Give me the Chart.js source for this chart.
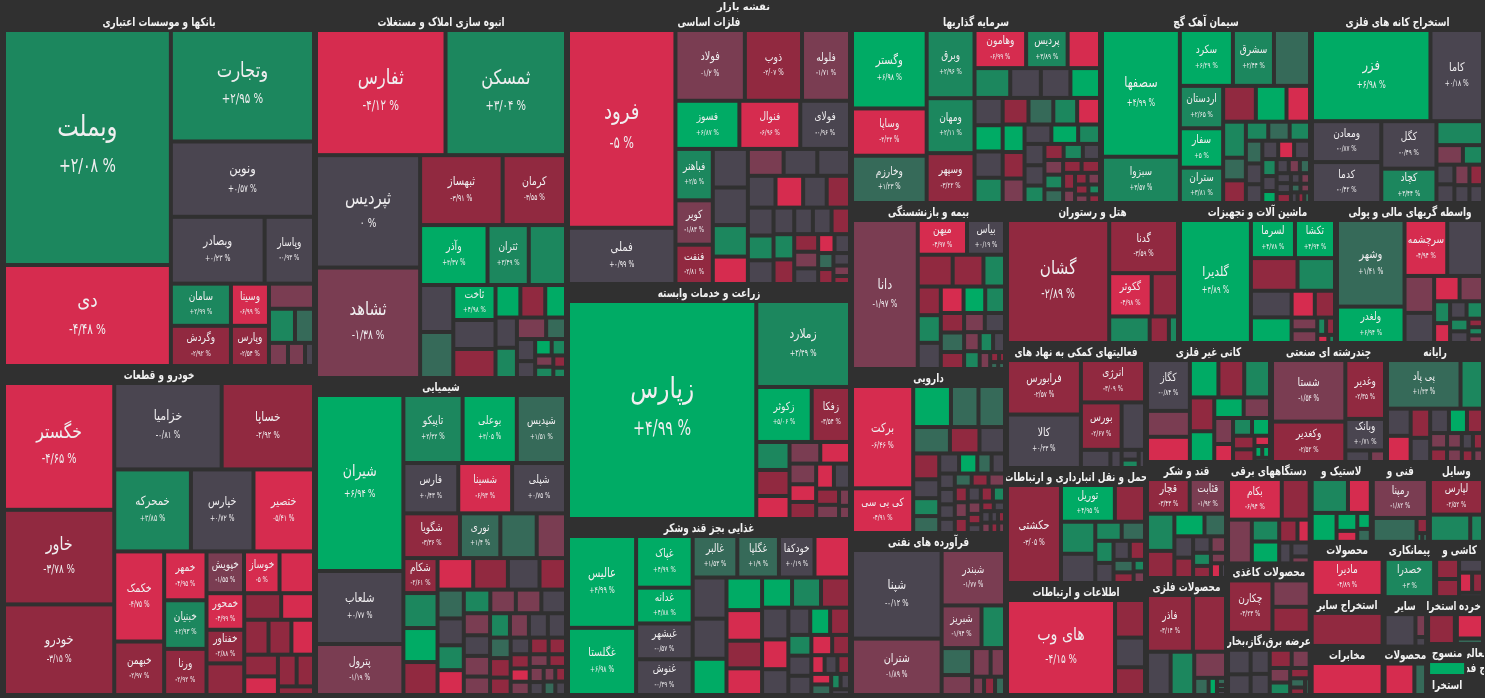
<!DOCTYPE html>
<html>
<head>
<meta charset="utf-8">
<title>نقشه بازار</title>
<script src="https://cdn.jsdelivr.net/npm/chart.js@4"></script>
<style>
  html, body { margin: 0; padding: 0; background: #303030; }
  #box { width: 1485px; height: 698px; }
</style>
</head>
<body>
<div id="box"><canvas id="marketMap"></canvas></div>
<script>
var chartTitle = "نقشه بازار";

var sectorNames = ["بانکها و موسسات اعتباری", "خودرو و قطعات", "انبوه سازی املاک و مستغلات", "شیمیایی", "فلزات اساسی", "زراعت و خدمات وابسته", "غذایی بجز قند وشکر", "سرمایه گذاریها", "سیمان آهک گچ", "استخراج کانه های فلزی", "بیمه و بازنشستگی", "دارویی", "فرآورده های نفتی", "هتل و رستوران", "ماشین آلات و تجهیزات", "واسطه گریهای مالی و پولی", "فعالیتهای کمکی به نهاد های", "حمل و نقل انبارداری و ارتباطات", "اطلاعات و ارتباطات", "کانی غیر فلزی", "چندرشته ای صنعتی", "رایانه", "قند و شکر", "محصولات فلزی", "دستگاههای برقی", "محصولات کاغذی", "عرضه برق،گاز،بخار", "لاستیک و", "فنی و", "وسایل", "محصولات", "استخراج سایر", "مخابرات", "پیمانکاری", "کاشی و", "سایر", "محصولات", "استخرا", "خرده", "منسوج", "استخرا", "فعالی", "ج فد"];
var sectorWeights = [110136, 102648, 91980, 79884, 76964, 66740, 49984, 47500, 39900, 32870, 25730, 25420, 25110, 24220, 21980, 20720, 17500, 16100, 15680, 14875, 13685, 11662, 9396, 9477, 8484, 5796, 5208, 4880, 4560, 4400, 3942, 3650, 3577, 2850, 2700, 2150, 2107, 1350, 1320, 1280, 760, 260, 600];

var cellNames = [
  ["وبملت", "دی", "وتجارت", "ونوین", "وبصادر", "وپاسار", "سامان", "وسینا", "وگردش", "وپارس"],
  ["خگستر", "خاور", "خودرو", "خزامیا", "خساپا", "خمحرکه", "خپارس", "ختصیر", "خکمک", "خبهمن", "خمهر", "خبنیان", "ورنا", "خپویش", "خمحور", "خفناور", "خوساز"],
  ["ثفارس", "ثمسکن", "ثپردیس", "ثشاهد", "ثبهساز", "کرمان", "وآذر", "ثتران", "ثاخت"],
  ["شیران", "شلعاب", "پترول", "تاپیکو", "بوعلی", "شپدیس", "فارس", "شسینا", "شپلی", "شگویا", "نوری", "شکام"],
  ["فرود", "فملی", "فولاد", "ذوب", "فلوله", "فسوز", "فنوال", "فولای", "فباهنر", "کویر", "فنفت"],
  ["زپارس", "زملارد", "زکوثر", "زفکا"],
  ["عالیس", "غگلستا", "غپاک", "غدانه", "غبشهر", "غنوش", "غالبر", "غگلپا", "خودکفا"],
  ["وگستر", "وساپا", "وخارزم", "وبرق", "ومهان", "وسپهر", "وهامون", "پردیس"],
  ["سصفها", "سبزوا", "سکرد", "سشرق", "اردستان", "سفار", "ستران"],
  ["فزر", "کاما", "ومعادن", "کدما", "کگل", "کچاد"],
  ["دانا", "میهن", "بیاس"],
  ["برکت", "کی بی سی"],
  ["شپنا", "شتران", "شبندر", "شبریز"],
  ["گشان", "گدنا", "گکوثر"],
  ["گلدیرا", "لسرما", "تکشا"],
  ["وشهر", "ولغدر", "سرچشمه"],
  ["فرابورس", "کالا", "انرژی", "بورس"],
  ["حکشتی", "توریل"],
  ["های وب"],
  ["کگاز"],
  ["شستا", "وکغدیر", "وغدیر", "وبانک"],
  ["پی پاد"],
  ["قچار", "قثابت"],
  ["فاذر"],
  ["بکام"],
  ["چکارن"],
  [], [],
  ["رمپنا"],
  ["لپارس"],
  ["مادیرا"],
  [], [],
  ["خصدرا"],
  [], [], [], [], [], [], [], [], []
];

var cellValues = [
  [39010, 16766, 15873, 10725, 6231, 3283, 2520, 1596, 2400, 1520, 1125, 884, 646, 437, 391, 207],
  [13860, 10340, 9900, 9202, 7912, 6232, 5084, 4920, 4459, 2646, 2050, 2040, 1936, 1554, 1369, 1258, 1470, 1184, 1428, 972, 864, 840, 792, 783, 620, 589, 725, 546, 308],
  [16125, 15000, 11648, 11440, 5740, 4410, 4020, 2460, 1470, 2220, 1551, 1518, 1218, 1218, 805, 805, 672, 644, 644, 625, 425, 400, 306, 270, 234, 204, 204, 154, 130],
  [15312, 6351, 4437, 4012, 3672, 3332, 2750, 2700, 2700, 2520, 1800, 1190, 1620, 1305, 1120, 1088, 992, 832, 1190, 1156, 1122, 754, 702, 650, 650, 624, 600, 600, 576, 580, 540, 540, 483, 483, 460, 460, 441, 420, 399, 357, 323, 306, 288, 252, 238, 221, 270, 210, 169, 156, 252, 180, 156, 143],
  [20882, 5936, 4828, 3976, 3337, 3024, 2880, 2352, 1887, 1628, 1443, 1330, 1295, 1085, 945, 945, 891, 864, 864, 864, 736, 704, 729, 540, 513, 486, 486, 624, 500, 414, 288, 304, 391, 240, 225, 598, 480, 368, 204, 170, 130],
  [40734, 7998, 3025, 2090, 924, 660, 638, 546, 450, 400, 858, 759, 468, 442, 368, 322, 187, 143],
  [6231, 4556, 2912, 2016, 2016, 2016, 1848, 1722, 1470, 1470, 1386, 1353, 1221, 1155, 900, 870, 870, 1085, 980, 945, 832, 780, 676, 594, 462, 440, 475, 540, 540, 420, 360, 247, 234, 240, 208, 208, 144, 144, 108],
  [5772, 3478, 3478, 3216, 2592, 2352, 1938, 1558, 1216, 1050, 870, 900, 870, 728, 676, 650, 624, 598, 756, 728, 700, 572, 594, 528, 513, 513, 418, 418, 399, 342, 304, 304, 272, 270, 234, 234, 198, 270, 156, 143, 112, 112, 252, 144, 132, 99],
  [9702, 3542, 2915, 2255, 1806, 1677, 1505, 1980, 1152, 1080, 828, 805, 506, 506, 418, 399, 380, 368, 288, 288, 288, 336, 304, 238, 210, 168, 168, 154, 140, 140, 99, 99, 140, 81, 81, 140, 70, 70, 60],
  [10465, 4641, 2747, 2747, 2538, 1836, 1080, 500, 380, 342, 300, 260, 324, 270, 234],
  [9900, 1728, 1332, 1122, 990, 693, 667, 609, 609, 580, 644, 529, 460, 400, 400, 460, 391, 300, 280, 240, 270, 180, 90, 60, 56, 48],
  [6283, 2745, 1554, 1134, 1092, 972, 783, 675, 676, 494, 468, 442, 400, 368, 288, 270, 240, 240, 225, 221, 221, 221, 216, 204, 204, 196, 196, 168, 140, 182, 182, 120, 108, 84, 72, 120, 108, 96, 80, 80],
  [7832, 4984, 3465, 1677, 989, 810, 522, 406, 600, 216, 198, 180],
  [12625, 3672, 1848, 1144, 1080, 513, 243],
  [8694, 1672, 1520, 1518, 1221, 1080, 621, 540, 1040, 325, 325, 153, 153, 90, 54],
  [5896, 2479, 2408, 2016, 1102, 650, 598, 899, 352, 288, 288, 320, 234, 216, 126, 112, 120],
  [3922, 3848, 2646, 1880, 1081, 522, 198, 162, 140, 112],
  [5194, 1944, 1080, 1088, 494, 437, 396, 304, 285, 986, 360, 247, 130, 209, 130],
  [10379, 1140, 900, 840],
  [2091, 1066, 1025, 1036, 925, 925, 792, 580, 520, 720, 468, 324, 323, 306, 280, 153, 260, 88, 88, 63],
  [4331, 2840, 2240, 1200, 275, 165],
  [3456, 1056, 621, 551, 442, 425, 598, 456, 378, 252, 221, 221, 192, 160, 176, 140, 117],
  [1400, 1190, 962, 644, 460, 702, 378, 272, 240, 360, 221, 150, 204, 140, 70],
  [2408, 1736, 946, 946, 768, 228, 132, 60, 42, 42],
  [2160, 1120, 1032, 594, 594, 414, 276, 252, 252, 126],
  [2279, 962, 945],
  [550, 456, 462, 399, 396, 324, 294, 198, 252, 136, 110, 77],
  [1190, 748, 696, 360, 208, 220, 169],
  [2067, 1008, 165, 48, 48],
  [1764, 1026, 324],
  [2400],
  [1900],
  [1800],
  [1800],
  [400, 360, 286, 228, 190, 90],
  [986, 240, 100],
  [812, 319],
  [783],
  [528, 120],
  [400],
  [], [], []
];

var cellChanges = [
  [2.08, -4.48, 2.95, 0.57, 0.23, -0.93, 2.99, -6.99, -2.92, -2.54, -1.5, 3, 1.5, -1.5, -1.5, -0.5],
  [-4.65, -3.78, -3.15, -0.81, -2.92, 3.85, 0.72, -5.41, -4.75, -2.97, -4.95, 2.93, -2.92, -1.55, -4.99, -2.88, -5, -3, -5, -3, -5, -3, -3, -5, -5, -3, -3, -3, -3],
  [-4.12, 3.04, 0, -1.38, -3.91, -3.55, 4.37, 3.49, 4.98, 3, 0, 1.5, 0, -3, 5, -3, 5, 0, 3, -1.5, 1.5, 0, 0, 5, 3, -1.5, 3, -3, 3],
  [6.94, 0.77, -1.19, 2.42, 4.05, 1.51, 0.43, -6.93, 0.75, -3.36, 1.4, -2.61, 1.5, -1.5, -5, -3, 0, -3, 3, 5, -3, 1.5, 0, 3, -5, 3, -1.5, -1.5, -1.5, 0, 0, -1.5, -1.5, 3, -1.5, 0, 0, 1.5, -3, -3, 0, -3, -3, -5, -1.5, -3, -3, -1.5, -1.5, -3, -1.5, 0, 1.5, 0],
  [-5, 0.99, -1.2, -2.07, -1.71, 6.87, -6.96, -0.96, 2.5, -1.83, -2.81, 0, 0, 3, -5, -1.5, 0, 0, 0, -5, 0, 0, -3, 0, 3, 0, 0, 3, -3, -3, 0, -5, -1.5, 1.5, -3, 0, -3, 0, 0, -1.5, -3],
  [4.99, 2.49, 5.06, -3.54, 3, -1.5, -5, -1.5, -3, 0, -3, -5, -5, -5, -3, -1.5, -1.5, -1.5],
  [4.99, 6.98, 4.99, 4.88, -0.57, -0.39, 1.53, 1.9, 0.19, -5, 0, 0, 5, 5, 5, 3, -3, -5, -3, -5, 0, -5, 0, 0, 0, 0, 3, 5, -3, -5, -3, -5, -3, 0, -5, 1.5, 3, 0, 0],
  [6.98, -4.44, 1.23, 2.96, 2.11, -3.22, -6.99, 3.89, -5, 3, 0, 0, 5, 5, -3, 1.5, 3, -5, 0, 0, 3, -3, 5, -1.5, 0, 5, 3, 0, 0, 3, -3, 3, 0, -1.5, -3, -3, -3, 3, -1.5, -1.5, -1.5, 3, 1.5, -3, -3, -3],
  [4.99, 3.57, 6.29, 2.44, 2.65, 5, 3.81, 1.5, -3, 5, -5, 3, 1.5, -3, 3, 1.5, 3, 1.5, 0, -5, 0, 0, 0, 3, 0, 5, 0, -1.5, 1.5, 0, 0, -1.5, 0, 1.5, -1.5, -3, 0, -3, 1.5],
  [6.98, 0.18, -0.87, -0.42, -0.49, 3.44, 3, -1.5, 3, 0, -1.5, 0, 0, -3, 0],
  [-1.97, -4.97, 0.19, -3, -3, 3, -3, 0, -5, 5, 3, 3, -3, -3, -1.5, 1.5, 0, -1.5, 3, 0, 3, -1.5, -3, -3, 1.5, 1.5],
  [-6.46, -4.91, 5, 1.5, 1.5, 1.5, -3, -3, 0, 0, 3, 1.5, 0, 5, 1.5, 0, 0, 0, 0, 0, 1.5, -3, -1.5, -3, -1.5, -3, 0, -1.5, -3, -3, 3, 0, 0, 0, -1.5, -3, 0, -1.5, -3, -3],
  [-0.12, -1.89, -1.77, -1.94, 3, 1.5, -1.5, -1.5, -1.5, -1.5, -3, 1.5],
  [-2.89, -3.59, -4.98, -3, 3, -3, 3],
  [4.89, 4.78, 4.94, -3, 3, 0, -5, -3, 5, -1.5, -1.5, 3, -3, -5, 3],
  [1.41, 6.94, -4.94, 0, -1.5, -5, -1.5, 0, 3, 0, 3, -5, 3, 0, -3, -1.5, 3],
  [-2.57, 0.23, -3.09, -2.67, 0, 0, 0, 0, 3, 0],
  [-3.05, 4.95, 3, -3, 3, 1.5, 3, 0, -3, 0, 0, 1.5, 3, -3, -1.5],
  [-4.15, -3, 0, -3],
  [-0.84, -1.5, 5, -5, -3, 3, -3, 5, -1.5, 5, -1.5, -5, 3, 5, -3, -5, -3, 5, 5, 1.5],
  [-1.54, -2.52, -2.35, 0.71, 0, -1.5],
  [1.43, 3, 0, -3, 0, 5, -5, 0, -3, -1.5, -3, -1.5, -1.5, -3, 0, -3, -1.5],
  [-3.43, -1.92, 3, 5, 1.5, -3, 0, 0, -1.5, -3, 3, -1.5, -3, -5, 0],
  [-3.14, -3, 0, 3, -1.5, 1.5, 5, 1.5, 1.5, 0],
  [-6.94, -3, -1.5, 3, 5, -3, -5, 0, 0, -1.5],
  [-3.23, -1.5, -3],
  [0, 0, 0, 0, -3, -1.5, -1.5, -3, 3, 1.5, -3, 1.5],
  [2, -5, 5, 5, 5, -5, 1.5],
  [-1.82, 1.5, -3, 3, 1.5],
  [-2.52, 3, 3],
  [-4.89],
  [-3],
  [-5],
  [3],
  [-3, -3, 0, -5, -3, 0],
  [0, -1.5, 0],
  [-5, 1.5],
  [-3],
  [-5, 1.5],
  [5],
  [], [], []
];

var boxWidth = 1481, boxHeight = 682;
var firstSplitBias = 0.8;
var rowRatio = 1.03;

function stepColor(p) {
  if (p >= 4) return "#00ab65";
  if (p >= 2) return "#1c875e";
  if (p >= 1) return "#366a59";
  if (p > -1) return "#4a4550";
  if (p > -2) return "#7a3d52";
  if (p > -4) return "#912940";
  return "#d62c4f";
}

function worst(areas, side) {
  var sum = 0, max = 0, min = Infinity;
  areas.forEach(function (a) { sum += a; max = Math.max(max, a); min = Math.min(min, a); });
  var s2 = side * side, sum2 = sum * sum;
  return Math.max(rowRatio * s2 * max / sum2, sum2 / (rowRatio * s2 * min));
}

// squarify, returns rects in the same order as vals
function squarify(vals, rect, bias) {
  var total = vals.reduce(function (a, b) { return a + b; }, 0);
  var scale = rect.w * rect.h / total;
  var out = [], i = 0;
  var x = rect.x, y = rect.y, w = rect.w, h = rect.h;
  while (i < vals.length) {
    var across = w < h * bias;   // true: row fills the width, on top
    bias = 1;
    var side = across ? w : h;
    var row = [], best = Infinity;
    while (i + row.length < vals.length) {
      var a = vals[i + row.length] * scale;
      var score = worst(row.concat(a), side);
      if (score > best) break;
      row.push(a);
      best = score;
    }
    var rowSum = row.reduce(function (p, q) { return p + q; }, 0);
    var thick = rowSum / side, pos = 0;
    row.forEach(function (a) {
      var len = a / thick;
      if (across) out.push({ x: x + pos, y: y, w: len, h: thick });
      else out.push({ x: x, y: y + pos, w: thick, h: len });
      pos += len;
    });
    if (across) { y += thick; h -= thick; } else { x += thick; w -= thick; }
    i += row.length;
  }
  return out;
}

function faDigits(s) {
  return s.replace(/[0-9]/g, function (d) { return "۰۱۲۳۴۵۶۷۸۹"[+d]; });
}
function changeText(p) {
  var sign = p > 0 ? "+" : p < 0 ? "-" : "";
  return sign + faDigits(String(Math.abs(p)).replace(".", "/")) + " %";
}

// DejaVu is wider than the font in the picture, so squeeze it sideways
function squeezedText(ctx, text, x, y, factor) {
  ctx.fillText(text, x, y, ctx.measureText(text).width * factor);
}

function labelSize(w, h) {
  var s = Math.sqrt(w * h), m = Math.min(w, h);
  if (m < 90) return Math.max(9, Math.min(13, 6 + s * 0.055));
  return 14 + (s - 95) * 0.088;
}

class TreeCell extends Chart.Element {
  draw(ctx) {
    ctx.fillStyle = this.color;
    ctx.fillRect(this.x + 2, this.y + 2, this.width - 4, this.height - 4);
    if (!this.name) return;
    var cx = this.x + this.width / 2, cy = this.y + this.height / 2;
    var eff = labelSize(this.width - 4, this.height - 4);
    ctx.fillStyle = "#f0eef0";
    ctx.textAlign = "center";
    ctx.textBaseline = "middle";
    ctx.direction = "rtl";
    ctx.font = (eff / 0.8) + "px 'DejaVu Sans'";
    squeezedText(ctx, this.name, cx, cy - eff * 0.85, 0.8);
    ctx.direction = "ltr";
    ctx.font = (eff * 0.886) + "px 'DejaVu Sans'";
    squeezedText(ctx, changeText(this.change), cx, cy + eff * 0.85, 0.7);
  }
}
TreeCell.id = "treeCell";
TreeCell.defaults = {};

class TreemapController extends Chart.DatasetController {
  update(mode) {
    var meta = this._cachedMeta;
    this.updateElements(meta.data, 0, meta.data.length, mode);
  }
  updateElements(elements) {
    var xs = this._cachedMeta.xScale, ys = this._cachedMeta.yScale;
    var boxes = squarify(sectorWeights, { x: 0, y: 0, w: boxWidth, h: boxHeight }, 1);
    this.headers = boxes;
    var cursor = 0;
    boxes.forEach(function (box, s) {
      var idx = cellValues[s].map(function (v, i) { return i; });
      idx.sort(function (a, b) { return cellValues[s][b] - cellValues[s][a] || a - b; });
      var vals = idx.map(function (i) { return cellValues[s][i]; });
      var inner = { x: box.x + 1, y: box.y + 16, w: box.w - 2, h: box.h - 17 };
      // the big sectors start with a column even when they are a bit taller than wide
      var rects = vals.length ? squarify(vals, inner, box.w > 240 ? firstSplitBias : 1) : [];
      rects.forEach(function (r, k) {
        var i = idx[k];
        var left = xs.getPixelForValue(r.x), right = xs.getPixelForValue(r.x + r.w);
        var top = ys.getPixelForValue(r.y), bottom = ys.getPixelForValue(r.y + r.h);
        Object.assign(elements[cursor], {
          x: left, y: top, width: right - left, height: bottom - top,
          color: stepColor(cellChanges[s][i]),
          name: cellNames[s][i],
          change: cellChanges[s][i]
        });
        cursor++;
      });
    });
  }
  draw() {
    var ctx = this.chart.ctx;
    var xs = this._cachedMeta.xScale, ys = this._cachedMeta.yScale;
    this._cachedMeta.data.forEach(function (el) { el.draw(ctx); });
    ctx.fillStyle = "#f2f2f2";
    ctx.textAlign = "center";
    ctx.textBaseline = "middle";
    ctx.direction = "rtl";
    ctx.font = "bold 12px 'DejaVu Sans'";
    (this.headers || []).forEach(function (box, s) {
      var left = xs.getPixelForValue(box.x), right = xs.getPixelForValue(box.x + box.w);
      var top = ys.getPixelForValue(box.y);
      ctx.save();
      ctx.beginPath();
      ctx.rect(left, top, right - left, 20);
      ctx.clip();
      squeezedText(ctx, sectorNames[s], (left + right) / 2, top + 8.5, 0.74);
      ctx.restore();
    });
  }
}
TreemapController.id = "treemap";
TreemapController.defaults = { dataElementType: "treeCell", datasetElementType: false };

Chart.register(TreeCell, TreemapController);

// flat list only so the library makes one element per cell
var allCells = [];
cellValues.forEach(function (list, s) {
  list.forEach(function (v, i) { allCells.push({ sector: s, index: i, value: v }); });
});

new Chart("marketMap", {
  type: "treemap",
  data: { datasets: [{ data: allCells, clip: false }] },
  options: {
    parsing: false,
    animation: false,
    responsive: true,
    maintainAspectRatio: false,
    layout: { padding: { left: 3, right: 1, bottom: 2, top: 0 } },
    scales: {
      x: { type: "linear", display: false, min: 0, max: boxWidth },
      y: { type: "linear", display: false, min: 0, max: boxHeight, reverse: true }
    },
    plugins: {
      legend: { display: false },
      tooltip: { enabled: false },
      title: {
        display: true,
        text: chartTitle,
        color: "#f2f2f2",
        font: { family: "'DejaVu Sans'", size: 10, weight: "bold" },
        padding: { top: 1, bottom: 1 }
      }
    }
  }
});
</script>
</body>
</html>
